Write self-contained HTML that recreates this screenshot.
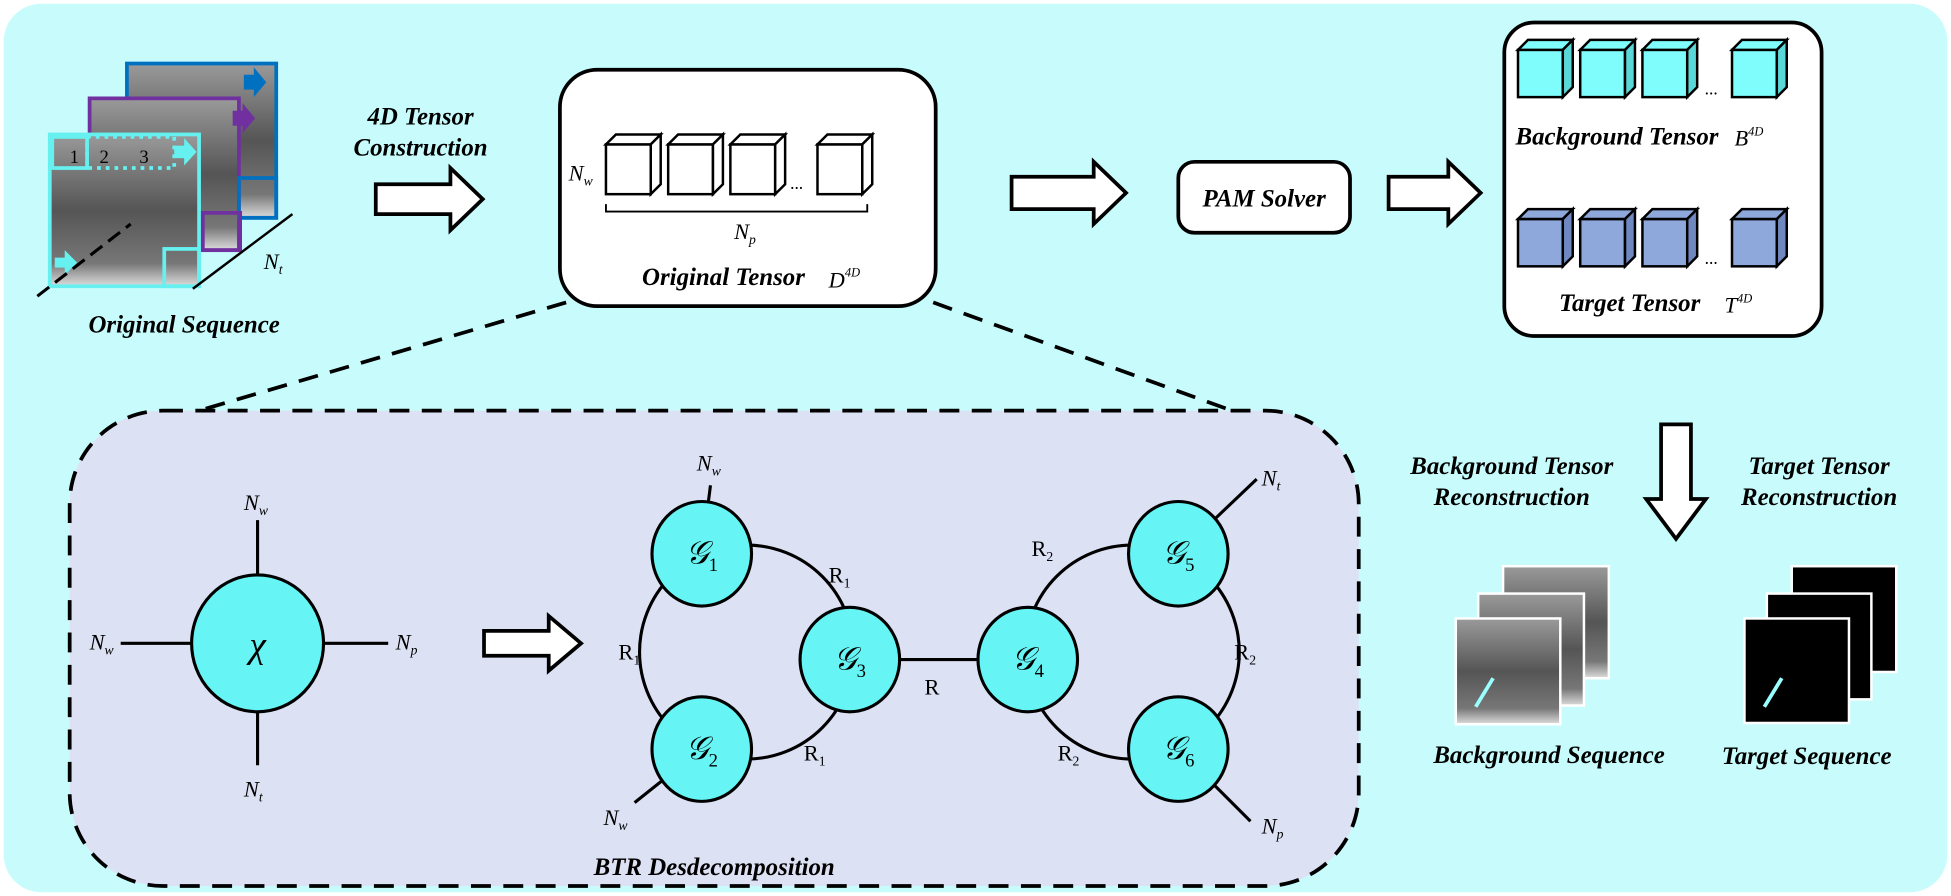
<!DOCTYPE html>
<html><head><meta charset="utf-8"><style>
html,body{margin:0;padding:0;background:#fff;}
svg{display:block;}
text{font-family:"Liberation Serif",serif;}
.lb{font-style:italic;font-weight:bold;font-size:20px;}
.m{font-style:italic;font-size:18px;}
</style></head><body>
<svg width="1951" height="896" viewBox="0 0 1568 720" xmlns="http://www.w3.org/2000/svg">
<defs>
<linearGradient id="gr" x1="0" y1="0" x2="0" y2="1">
<stop offset="0" stop-color="#9a9a9a"/><stop offset="0.5" stop-color="#555"/><stop offset="0.85" stop-color="#777"/><stop offset="1" stop-color="#ddd"/>
</linearGradient>
<g id="cubeW"><rect x="0" y="8" width="36" height="40" fill="#fff" stroke="#000" stroke-width="2"/><path d="M0 8 L8 0 L44 0 L36 8 Z" fill="#fff" stroke="#000" stroke-width="2"/><path d="M36 8 L44 0 L44 40 L36 48 Z" fill="#fff" stroke="#000" stroke-width="2"/></g>
<g id="cubeC"><rect x="0" y="8" width="36" height="38" fill="#7ffcfc" stroke="#000" stroke-width="2"/><path d="M0 8 L8 0 L44 0 L36 8 Z" fill="#7ffcfc" stroke="#000" stroke-width="2"/><path d="M36 8 L44 0 L44 38 L36 46 Z" fill="#5ad8d8" stroke="#000" stroke-width="2"/></g>
<g id="cubeB"><rect x="0" y="8" width="36" height="38" fill="#8fa8dc" stroke="#000" stroke-width="2"/><path d="M0 8 L8 0 L44 0 L36 8 Z" fill="#8fa8dc" stroke="#000" stroke-width="2"/><path d="M36 8 L44 0 L44 38 L36 46 Z" fill="#6f88c0" stroke="#000" stroke-width="2"/></g>
</defs>
<rect x="3" y="3" width="1562" height="714" rx="30" fill="#c8fcfc"/>

<!-- original sequence -->
<rect x="102" y="51" width="120" height="124" fill="url(#gr)" stroke="#0070c0" stroke-width="3"/>
<rect x="72" y="79" width="120" height="122" fill="url(#gr)" stroke="#7030a0" stroke-width="3"/>
<rect x="40" y="108" width="120" height="122" fill="url(#gr)" stroke="#66f0f0" stroke-width="3"/>
<rect x="42" y="110" width="28" height="25" fill="none" stroke="#66f0f0" stroke-width="3"/>
<rect x="70" y="110" width="70" height="25" fill="none" stroke="#66f0f0" stroke-width="3" stroke-dasharray="3 4"/>
<path d="M140 117 h8 v-6 l10 11 -10 11 v-6 h-8z" fill="#66f0f0"/>
<path d="M195 89 h-8 v12 h8 v6 l10 -12 -10 -12z" fill="#7030a0"/>
<path d="M204 60 h-8 v12 h8 v6 l10 -12 -10 -12z" fill="#0070c0"/>
<text x="56" y="131" font-size="15">1</text><text x="80" y="131" font-size="15">2</text><text x="112" y="131" font-size="15">3</text>
<rect x="192" y="143" width="30" height="32" fill="none" stroke="#0070c0" stroke-width="3"/>
<rect x="163" y="171" width="30" height="30" fill="none" stroke="#7030a0" stroke-width="3"/>
<rect x="132" y="200" width="28" height="30" fill="none" stroke="#66f0f0" stroke-width="3"/>
<path d="M44 207 h8 v-6 l10 10 -10 10 v-6 h-8z" fill="#66f0f0"/>
<line x1="30" y1="238" x2="105" y2="180" stroke="#000" stroke-width="2.5" stroke-dasharray="12 6"/>
<line x1="155" y1="232" x2="235" y2="172" stroke="#000" stroke-width="2"/>
<text x="212" y="216" class="m">N<tspan font-size="11" dy="4">t</tspan></text>
<text x="148" y="267" class="lb" text-anchor="middle">Original Sequence</text>

<text x="338" y="100" class="lb" text-anchor="middle">4D Tensor</text>
<text x="338" y="125" class="lb" text-anchor="middle">Construction</text>
<path d="M302 148 h60 v-13 l26 25 -26 25 v-13 h-60z" fill="#fff" stroke="#000" stroke-width="3"/>

<!-- original tensor -->
<rect x="450" y="56" width="302" height="190" rx="30" fill="#fff" stroke="#000" stroke-width="3"/>
<use href="#cubeW" x="487" y="108"/><use href="#cubeW" x="537" y="108"/><use href="#cubeW" x="587" y="108"/><use href="#cubeW" x="657" y="108"/>
<text x="635" y="152" font-size="14">...</text>
<text x="457" y="145" class="m">N<tspan font-size="11" dy="4">w</tspan></text>
<path d="M487 164 v6 h210 v-6" fill="none" stroke="#000" stroke-width="1.5"/>
<text x="590" y="192" class="m">N<tspan font-size="11" dy="4">p</tspan></text>
<text x="516" y="229" class="lb">Original Tensor</text>
<text x="666" y="231" class="m">D<tspan font-size="10" dy="-9">4D</tspan></text>

<path d="M813 142 h66 v-12 l26 25 -26 25 v-12 h-66z" fill="#fff" stroke="#000" stroke-width="3"/>
<rect x="947" y="130" width="138" height="57" rx="13" fill="#fff" stroke="#000" stroke-width="3"/>
<text x="1016" y="166" class="lb" text-anchor="middle">PAM Solver</text>
<path d="M1116 142 h48 v-12 l26 25 -26 25 v-12 h-48z" fill="#fff" stroke="#000" stroke-width="3"/>

<!-- right box -->
<rect x="1209" y="18" width="255" height="252" rx="24" fill="#fff" stroke="#000" stroke-width="3"/>
<use href="#cubeC" x="1220" y="32"/><use href="#cubeC" x="1270" y="32"/><use href="#cubeC" x="1320" y="32"/><use href="#cubeC" x="1392" y="32"/>
<text x="1370" y="76" font-size="14">...</text>
<text x="1218" y="116" class="lb">Background Tensor</text>
<text x="1394" y="117" class="m">B<tspan font-size="10" dy="-8">4D</tspan></text>
<use href="#cubeB" x="1220" y="168"/><use href="#cubeB" x="1270" y="168"/><use href="#cubeB" x="1320" y="168"/><use href="#cubeB" x="1392" y="168"/>
<text x="1370" y="212" font-size="14">...</text>
<text x="1253" y="250" class="lb">Target Tensor</text>
<text x="1386" y="251" class="m">T<tspan font-size="10" dy="-8">4D</tspan></text>

<path d="M1335 341 h24 v60 h12 l-24 32 -24 -32 h12z" fill="#fff" stroke="#000" stroke-width="3"/>
<text x="1215" y="381" class="lb" text-anchor="middle">Background Tensor</text>
<text x="1215" y="406" class="lb" text-anchor="middle">Reconstruction</text>
<text x="1462" y="381" class="lb" text-anchor="middle">Target Tensor</text>
<text x="1462" y="406" class="lb" text-anchor="middle">Reconstruction</text>

<rect x="1208" y="455" width="85" height="90" fill="url(#gr)" stroke="#fff" stroke-width="2"/>
<rect x="1188" y="477" width="85" height="90" fill="url(#gr)" stroke="#fff" stroke-width="2"/>
<rect x="1170" y="497" width="84" height="85" fill="url(#gr)" stroke="#fff" stroke-width="2"/>
<line x1="1186" y1="568" x2="1200" y2="545" stroke="#9ff" stroke-width="3"/>
<rect x="1440" y="455" width="84" height="85" fill="#000" stroke="#fff" stroke-width="2"/>
<rect x="1420" y="477" width="84" height="85" fill="#000" stroke="#fff" stroke-width="2"/>
<rect x="1402" y="497" width="84" height="84" fill="#000" stroke="#fff" stroke-width="2"/>
<line x1="1418" y1="568" x2="1432" y2="545" stroke="#9ff" stroke-width="3"/>
<text x="1245" y="613" class="lb" text-anchor="middle">Background Sequence</text>
<text x="1452" y="614" class="lb" text-anchor="middle">Target Sequence</text>

<!-- dashed region -->
<line x1="455" y1="243" x2="160" y2="330" stroke="#000" stroke-width="3" stroke-dasharray="16 10"/>
<line x1="750" y1="243" x2="990" y2="330" stroke="#000" stroke-width="3" stroke-dasharray="16 10"/>
<rect x="56" y="330" width="1036" height="382" rx="75" fill="#dde1f4" stroke="#000" stroke-width="3" stroke-dasharray="16 10"/>

<g stroke="#000" stroke-width="2.5">
<line x1="207" y1="418" x2="207" y2="615"/><line x1="97" y1="517" x2="312" y2="517"/>
</g>
<ellipse cx="207" cy="517" rx="53" ry="55" fill="#66f4f4" stroke="#000" stroke-width="2.5"/>
<text x="207" y="528" font-size="30" font-style="italic" text-anchor="middle" font-family="DejaVu Serif">χ</text>
<text x="196" y="410" class="m">N<tspan font-size="11" dy="4">w</tspan></text>
<text x="72" y="522" class="m">N<tspan font-size="11" dy="4">w</tspan></text>
<text x="318" y="522" class="m">N<tspan font-size="11" dy="4">p</tspan></text>
<text x="196" y="640" class="m">N<tspan font-size="11" dy="4">t</tspan></text>
<path d="M389 507 h52 v-12 l26 22 -26 22 v-12 h-52z" fill="#fff" stroke="#000" stroke-width="3"/>

<g stroke="#000" stroke-width="2.5" fill="none">
<circle cx="600" cy="524" r="86"/><circle cx="910" cy="524" r="86"/>
<line x1="683" y1="530" x2="826" y2="530"/>
<line x1="564" y1="445" x2="571" y2="390"/>
<line x1="564" y1="602" x2="510" y2="645"/>
<line x1="947" y1="445" x2="1010" y2="385"/>
<line x1="947" y1="602" x2="1005" y2="660"/>
</g>
<g fill="#66f4f4" stroke="#000" stroke-width="2.5">
<ellipse cx="564" cy="445" rx="40" ry="42"/><ellipse cx="564" cy="602" rx="40" ry="42"/>
<ellipse cx="683" cy="530" rx="40" ry="42"/><ellipse cx="826" cy="530" rx="40" ry="42"/>
<ellipse cx="947" cy="445" rx="40" ry="42"/><ellipse cx="947" cy="602" rx="40" ry="42"/>
</g>
<g font-size="26" font-style="italic">
<text x="551" y="453">𝒢<tspan font-size="15" font-style="normal" dy="6">1</tspan></text>
<text x="551" y="610">𝒢<tspan font-size="15" font-style="normal" dy="6">2</tspan></text>
<text x="670" y="538">𝒢<tspan font-size="15" font-style="normal" dy="6">3</tspan></text>
<text x="813" y="538">𝒢<tspan font-size="15" font-style="normal" dy="6">4</tspan></text>
<text x="934" y="453">𝒢<tspan font-size="15" font-style="normal" dy="6">5</tspan></text>
<text x="934" y="610">𝒢<tspan font-size="15" font-style="normal" dy="6">6</tspan></text>
</g>
<g font-size="18">
<text x="666" y="468">R<tspan font-size="11" dy="4">1</tspan></text>
<text x="497" y="530">R<tspan font-size="11" dy="4">1</tspan></text>
<text x="646" y="611">R<tspan font-size="11" dy="4">1</tspan></text>
<text x="829" y="447">R<tspan font-size="11" dy="4">2</tspan></text>
<text x="992" y="530">R<tspan font-size="11" dy="4">2</tspan></text>
<text x="850" y="611">R<tspan font-size="11" dy="4">2</tspan></text>
<text x="743" y="558">R</text>
</g>
<text x="560" y="378" class="m">N<tspan font-size="11" dy="4">w</tspan></text>
<text x="485" y="663" class="m">N<tspan font-size="11" dy="4">w</tspan></text>
<text x="1014" y="390" class="m">N<tspan font-size="11" dy="4">t</tspan></text>
<text x="1014" y="670" class="m">N<tspan font-size="11" dy="4">p</tspan></text>
<text x="574" y="703" class="lb" text-anchor="middle">BTR Desdecomposition</text>
</svg>
</body></html>
